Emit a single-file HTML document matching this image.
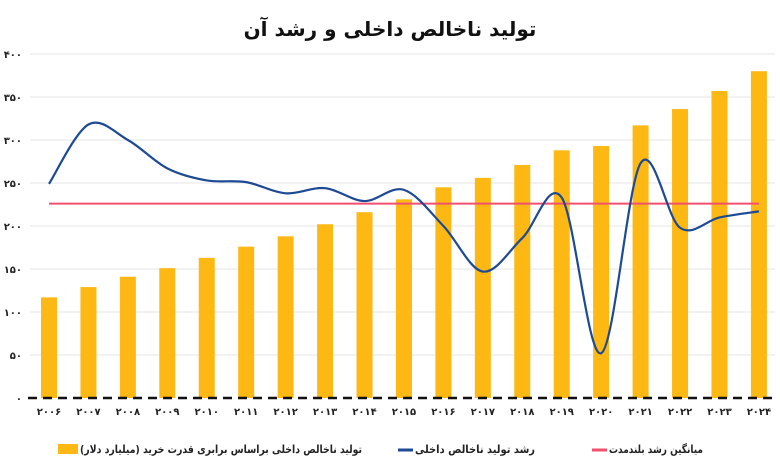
<!DOCTYPE html>
<html lang="fa"><head><meta charset="utf-8">
<style>
body{margin:0;background:#fff;width:780px;height:470px;overflow:hidden;font-family:"Liberation Sans","Noto Sans CJK SC",sans-serif}
text{font-family:"DejaVu Sans","Liberation Sans",sans-serif}
</style></head><body>
<svg id="chart" width="780" height="470" xmlns="http://www.w3.org/2000/svg">
<text x="390" y="36" text-anchor="middle" font-size="20" font-weight="bold" fill="#111">تولید ناخالص داخلی و رشد آن</text>
<g id="grid"></g><g id="bars"></g><g id="lines"></g><g id="xlabels"></g>
<g font-size="11" font-weight="bold" fill="#222">
<rect x="58" y="444" width="20" height="10" fill="#FDB813"/>
<text x="80" y="453" text-anchor="start" textLength="282" lengthAdjust="spacingAndGlyphs">تولید ناخالص داخلی براساس برابری قدرت خرید (میلیارد دلار)</text>
<line x1="398" y1="450" x2="413" y2="450" stroke="#1d4a94" stroke-width="3"/>
<text x="415" y="453" text-anchor="start" textLength="120" lengthAdjust="spacingAndGlyphs">رشد تولید ناخالص داخلی</text>
<line x1="592" y1="450" x2="607" y2="450" stroke="#f0506e" stroke-width="3"/>
<text x="609" y="453" text-anchor="start" textLength="94" lengthAdjust="spacingAndGlyphs">میانگین رشد بلندمدت</text>
</g>
</svg>
<script>
const years=['۲۰۰۶','۲۰۰۷','۲۰۰۸','۲۰۰۹','۲۰۱۰','۲۰۱۱','۲۰۱۲','۲۰۱۳','۲۰۱۴','۲۰۱۵','۲۰۱۶','۲۰۱۷','۲۰۱۸','۲۰۱۹','۲۰۲۰','۲۰۲۱','۲۰۲۲','۲۰۲۳','۲۰۲۴'];
const gdp=[117,129,141,151,163,176,188,202,216,231,245,256,271,288,293,317,336,357,380];
const growth=[249,318,300,267,253,251,238,244,229,242,200,147,186,233,52,273,198,210,217];
const average=[226];
const yTicks=[0,50,100,150,200,250,300,350,400];
const yTickLabels=['۰','۵۰','۱۰۰','۱۵۰','۲۰۰','۲۵۰','۳۰۰','۳۵۰','۴۰۰'];
const NS='http://www.w3.org/2000/svg';
const y=v=>398-v*0.86;
const x=i=>49+i*39.44;
function mk(tag,attrs,parent){const e=document.createElementNS(NS,tag);for(const k in attrs)e.setAttribute(k,attrs[k]);parent.appendChild(e);return e;}
const grid=document.getElementById('grid');
yTicks.forEach((t,i)=>{
 if(t>0){const l=mk('line',{x1:30,x2:775,y1:y(t),y2:y(t),stroke:'#e6e6e6','stroke-width':1},grid);
 
 }
 const tx=mk('text',{x:22,y:y(t)+4,'text-anchor':'end','font-size':10,'font-weight':'bold',fill:'#222'},grid);
 tx.textContent=yTickLabels[i];
 
 
});
const bars=document.getElementById('bars');
gdp.forEach((v,i)=>{
 const r=mk('rect',{x:x(i)-8,y:y(v),width:16,height:y(0)-y(v),fill:'#FDB813'},bars);
 
 
});
const base=mk('line',{x1:28,x2:775,y1:y(0),y2:y(0),stroke:'#111','stroke-width':2.5,'stroke-dasharray':'9,6'},bars);


const lines=document.getElementById('lines');
const avg=mk('line',{x1:x(0),x2:x(gdp.length-1),y1:y(average[0]),y2:y(average[0]),stroke:'#f0506e','stroke-width':2},lines);


const pts=growth.map((v,i)=>[x(i),y(v)]);
let d='M'+pts[0][0]+','+pts[0][1];
for(let i=0;i<pts.length-1;i++){
 const p0=pts[i-1]||pts[i],p1=pts[i],p2=pts[i+1],p3=pts[i+2]||p2;
 const c1=[p1[0]+(p2[0]-p0[0])/6,p1[1]+(p2[1]-p0[1])/6],c2=[p2[0]-(p3[0]-p1[0])/6,p2[1]-(p3[1]-p1[1])/6];
 d+=' C'+c1+' '+c2+' '+p2;
}
const gl=mk('path',{d:d,fill:'none',stroke:'#1d4a94','stroke-width':2.2},lines);


const xl=document.getElementById('xlabels');
years.forEach((yr,i)=>{
 const t=mk('text',{x:x(i),y:415,'text-anchor':'middle','font-size':10,'font-weight':'bold',fill:'#222'},xl);
 t.textContent=yr;
 
 
});
</script>
</body></html>
